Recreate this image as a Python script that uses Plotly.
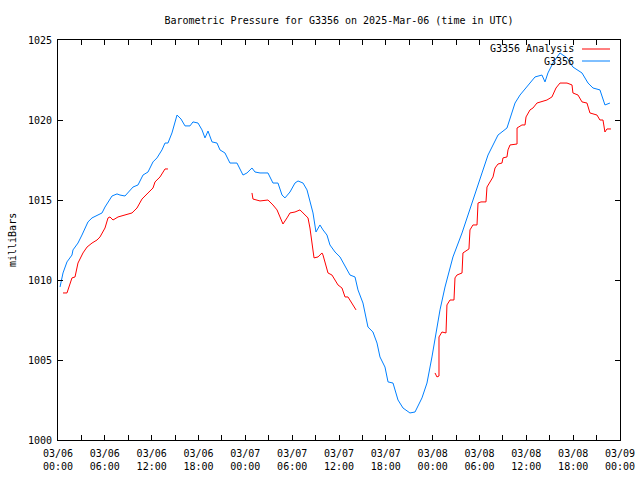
import pandas as pd
import plotly.graph_objects as go

BASE = "2025-03-06 00:00"

# G3356 observed (hours after 03/06 00:00 UTC, mb)
obs_hours = [0.26, 0.64, 1.15, 1.79, 1.92, 2.56, 3.07, 3.46, 3.84, 4.36, 5.00, 5.64, 6.02, 6.66, 6.92,
             7.56, 7.94, 8.58, 8.97, 9.61, 10.25, 10.89, 11.53, 12.17, 12.68, 13.32, 13.71, 14.09, 14.60,
             15.25, 15.76, 16.27, 16.91, 17.29, 17.94, 18.45, 18.83, 19.22, 19.73, 20.37, 20.75, 21.39,
             22.03, 22.93, 23.70, 24.21, 24.85, 25.24, 25.88, 26.90, 27.54, 28.18, 28.70, 29.08, 29.72,
             30.36, 30.75, 31.39, 31.90, 32.28, 32.67, 33.05, 33.56, 33.95, 34.46, 34.84, 35.49, 36.13,
             36.89, 37.41, 38.05, 38.43, 39.07, 39.71, 40.35, 40.87, 41.25, 41.89, 42.28, 42.92, 43.56,
             44.20, 45.09, 45.74, 46.63, 47.27, 47.91, 48.55, 48.94, 49.58, 50.60, 51.76, 52.78, 54.32,
             55.09, 56.37, 57.52, 58.55, 59.19, 60.08, 61.11, 62.00, 62.39, 62.77, 63.41, 64.31, 65.21,
             65.97, 67.13, 67.90, 68.54, 69.43, 70.07, 70.71]
obs_mb = [1009.56, 1010.44, 1011.13, 1011.56, 1011.88, 1012.31, 1012.81, 1013.25, 1013.63, 1013.88,
          1014.06, 1014.19, 1014.56, 1015.00, 1015.25, 1015.38, 1015.31, 1015.25, 1015.44, 1015.81,
          1015.94, 1016.56, 1016.75, 1017.38, 1017.63, 1018.13, 1018.56, 1018.56, 1019.19, 1020.31,
          1020.06, 1019.63, 1019.63, 1019.88, 1019.81, 1019.38, 1018.88, 1019.31, 1018.63, 1018.56,
          1018.13, 1017.94, 1017.31, 1017.31, 1016.56, 1016.69, 1017.00, 1016.75, 1016.69, 1016.69,
          1016.06, 1016.06, 1015.31, 1015.13, 1015.50, 1016.06, 1016.19, 1016.06, 1015.63, 1015.00,
          1014.19, 1013.00, 1013.44, 1013.13, 1012.81, 1012.19, 1011.75, 1011.44, 1010.75, 1010.31,
          1010.19, 1009.38, 1008.56, 1007.06, 1006.75, 1006.06, 1005.19, 1004.56, 1003.63, 1003.56,
          1002.50, 1002.00, 1001.69, 1001.75, 1002.63, 1003.56, 1005.19, 1006.88, 1008.13, 1009.56,
          1011.44, 1012.94, 1014.38, 1016.69, 1017.81, 1019.06, 1019.50, 1021.06, 1021.56, 1022.06,
          1022.69, 1022.81, 1022.38, 1022.94, 1023.56, 1024.19, 1023.88, 1023.31, 1022.94, 1022.31,
          1022.00, 1021.88, 1020.94, 1021.06]

# G3356 Analysis (three segments separated by gaps: None)
ana_hours = [0.64, 1.15, 1.79, 2.18, 2.56, 3.20, 3.72, 4.36, 5.00, 5.38, 6.02, 6.41, 6.66, 7.05, 7.69,
             8.58, 9.48, 10.12, 10.76, 11.53, 12.17, 12.43, 13.07, 13.71, 14.09,
             19.0,
             24.85, 24.98, 25.88, 26.90, 27.54, 28.06, 28.44, 28.82, 29.34, 29.72, 30.36, 31.00, 31.39,
             32.03, 32.28, 32.54, 32.80, 33.31, 33.82, 33.95, 34.20, 34.59, 35.10, 35.49, 35.87, 36.38,
             36.77, 37.15, 37.66, 38.18,
             43.0,
             48.30, 48.55, 48.81, 48.81, 49.19, 49.71, 49.83, 50.22, 50.73, 50.86, 51.11, 51.76, 51.88,
             52.65, 52.78, 53.16, 53.68, 53.81, 54.19, 54.83, 54.96, 55.34, 55.73, 55.99, 56.37, 56.88,
             57.01, 57.52, 57.65, 57.91, 58.81, 58.81, 59.44, 59.83, 59.96, 60.47, 60.85, 61.36, 61.75,
             62.64, 63.28, 63.80, 64.31, 65.21, 65.85, 65.97, 66.62, 67.13, 67.77, 68.15, 69.05, 69.43,
             69.82, 70.07, 70.33, 70.84]
ana_mb = [1009.19, 1009.19, 1010.13, 1010.19, 1011.06, 1011.69, 1012.06, 1012.31, 1012.50, 1012.69,
          1013.25, 1013.88, 1013.94, 1013.75, 1013.94, 1014.06, 1014.19, 1014.50, 1015.06, 1015.44,
          1015.75, 1016.13, 1016.44, 1016.94, 1016.94,
          None,
          1015.44, 1015.06, 1014.94, 1015.00, 1014.69, 1014.38, 1013.94, 1013.50, 1013.88, 1014.19,
          1014.25, 1014.38, 1014.19, 1013.88, 1013.25, 1012.31, 1011.38, 1011.44, 1011.69, 1011.56,
          1011.06, 1010.44, 1010.31, 1010.00, 1009.69, 1009.50, 1008.94, 1008.94, 1008.56, 1008.13,
          None,
          1004.19, 1003.94, 1004.00, 1006.44, 1006.75, 1006.69, 1008.44, 1008.75, 1008.75, 1010.13,
          1010.31, 1010.44, 1011.69, 1011.94, 1013.13, 1013.44, 1013.44, 1014.81, 1014.88, 1014.88,
          1015.81, 1016.13, 1016.44, 1017.00, 1017.25, 1017.31, 1017.63, 1017.69, 1018.13, 1018.44,
          1018.50, 1019.50, 1019.69, 1019.69, 1020.19, 1020.63, 1020.75, 1021.06, 1021.13, 1021.25,
          1021.44, 1022.00, 1022.31, 1022.31, 1022.19, 1021.69, 1021.56, 1021.13, 1021.06, 1020.44,
          1020.31, 1020.00, 1020.00, 1019.25, 1019.44, 1019.44]

series_names = ["G3356 Analysis", "G3356"]
series_colors = ["#ff0000", "#0080ff"]

base = pd.Timestamp(BASE)
obs_t = [base + pd.Timedelta(hours=h) for h in obs_hours]
ana_t = [base + pd.Timedelta(hours=h) for h in ana_hours]

FONT = "DejaVu Sans Mono"
L, R, T, B = 58, 620, 40, 440
PW, PH = R - L, B - T

fig = go.Figure()
fig.add_trace(go.Scatter(x=ana_t, y=ana_mb, mode="lines", name=series_names[0],
                         line=dict(color=series_colors[0], width=1), connectgaps=False,
                         showlegend=False))
fig.add_trace(go.Scatter(x=obs_t, y=obs_mb, mode="lines", name=series_names[1],
                         line=dict(color=series_colors[1], width=1), showlegend=False))

# gnuplot-style legend: text right-aligned, line sample on the right
for i, (nm, col) in enumerate(zip(series_names, series_colors)):
    ypx = 49 + 12 * i
    yp = 1 - (ypx - T) / PH
    fig.add_annotation(x=(576 - L) / PW, y=yp, xref="paper", yref="paper", text=nm,
                       showarrow=False, xanchor="right", yanchor="middle",
                       font=dict(family=FONT, size=10, color="black"))
    fig.add_shape(type="line", xref="paper", yref="paper",
                  x0=(582 - L) / PW, x1=(610 - L) / PW, y0=yp, y1=yp,
                  line=dict(color=col, width=1))

# y-axis title
fig.add_annotation(x=(12 - L) / PW, y=0.5, xref="paper", yref="paper", text="milliBars",
                   showarrow=False, textangle=-90, xanchor="center", yanchor="middle",
                   font=dict(family=FONT, size=10, color="black"))

fig.update_layout(
    width=640, height=480,
    margin=dict(l=L, r=640 - R, t=T, b=480 - B, autoexpand=False),
    paper_bgcolor="white", plot_bgcolor="white",
    font=dict(family=FONT, size=10, color="black"),
    title=dict(text="Barometric Pressure for G3356 on 2025-Mar-06 (time in UTC)",
               x=339 / 640, xanchor="center", y=1 - 20 / 480, yanchor="middle",
               font=dict(family=FONT, size=10, color="black")),
)
fig.update_xaxes(
    range=[base, base + pd.Timedelta(hours=72)], automargin=False,
    tick0=base, dtick=6 * 3600 * 1000, tickformat="%m/%d<br>%H:%M",
    ticks="inside", ticklen=5, tickcolor="black", showline=True, linecolor="black",
    linewidth=1, mirror="ticks", showgrid=False, zeroline=False, ticklabelstandoff=4,
    minor=dict(dtick=3 * 3600 * 1000, ticks="inside", ticklen=5, tickcolor="black", showgrid=False),
    tickfont=dict(family=FONT, size=10),
)
fig.update_yaxes(
    range=[1000, 1025], dtick=5, ticks="inside", ticklen=5, tickcolor="black", automargin=False,
    showline=True, linecolor="black", linewidth=1, mirror="ticks", showgrid=False, zeroline=False,
    ticklabelstandoff=3, tickfont=dict(family=FONT, size=10),
)

fig.write_html("out.html", config={"displayModeBar": False},
               post_script="document.body.style.margin='0';document.body.style.overflow='hidden';")
